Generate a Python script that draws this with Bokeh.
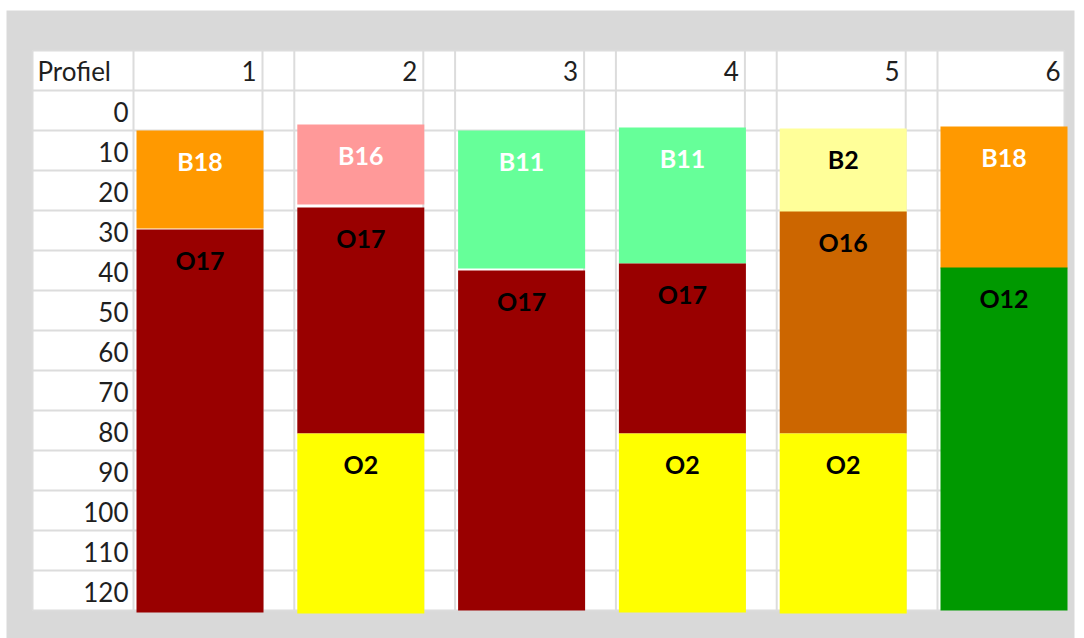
from bokeh.plotting import figure
from bokeh.models import Range1d, ColumnDataSource
from bokeh.core.properties import value
from bokeh.embed import file_html
from bokeh.resources import INLINE

# ---- data ----
profiles = [1, 2, 3, 4, 5, 6]
depth_labels = [0, 10, 20, 30, 40, 50, 60, 70, 80, 90, 100, 110, 120]
layer_profile = [1, 1, 2, 2, 2, 3, 3, 4, 4, 4, 5, 5, 5, 6, 6]
layer_code = ["B18", "O17", "B16", "O17", "O2", "B11", "O17", "B11", "O17", "O2",
              "B2", "O16", "O2", "B18", "O12"]
layer_top = [5, 29.75, 3.5, 24.25, 80.75, 5, 40, 4.25, 38.25, 80.75,
             4.5, 25.25, 80.75, 4, 39.25]
layer_bottom = [29.5, 125.5, 23.5, 80.75, 125.75, 39.5, 125, 38.25, 80.75, 125.5,
                25.5, 80.75, 125.75, 39.5, 125]

# ---- styles ----
code_color = {"B18": "#FF9900", "B16": "#FF9999", "B11": "#66FF99", "B2": "#FFFF99",
              "O17": "#990000", "O16": "#CC6600", "O2": "#FFFF00", "O12": "#009900"}
code_text = {"B18": "white", "B16": "white", "B11": "white", "B2": "black",
             "O17": "black", "O16": "black", "O2": "black", "O12": "black"}

FONT = "Lato"
GRID = "#DCDCDC"
TEXT = "#1F1F1F"

# layout (page pixel coordinates for x, depth units for y; 4 px per unit)
LABEL_L, LABEL_R = 32, 133
COL_STEP, WIDE = 160.8, 129
TABLE_R = 1064
ROW_TOP = -15  # top of header row (depth units)
ROW_H = 10

p = figure(width=1084, height=638, x_range=Range1d(0, 1084), y_range=Range1d(132, -27.5),
           min_border=0, toolbar_location=None, output_backend="svg",
           x_axis_location=None, y_axis_location=None)
p.grid.visible = False
p.outline_line_color = None
p.background_fill_color = "white"
p.border_fill_color = "white"

# grey sheet background and white table
p.quad(left=[6], right=[1074], top=[-25], bottom=[133], fill_color="#D9D9D9", line_color=None)
p.quad(left=[LABEL_L], right=[TABLE_R], top=[ROW_TOP], bottom=[125], fill_color="white", line_color=None)

# grid lines
col_starts = [LABEL_R + (pr - 1) * COL_STEP for pr in profiles]
vx = [LABEL_L, LABEL_R]
for i, s in enumerate(col_starts):
    if i > 0:
        vx.append(s)
    if i < len(col_starts) - 1:
        vx.append(s + WIDE)
vx.append(TABLE_R)
p.segment(x0=vx, x1=vx, y0=[ROW_TOP] * len(vx), y1=[125] * len(vx), line_color=GRID, line_width=2)
hy = [ROW_TOP + k * ROW_H for k in range(len(depth_labels) + 2)]
p.segment(x0=[LABEL_L] * len(hy), x1=[TABLE_R] * len(hy), y0=hy, y1=hy, line_color=GRID, line_width=2)

# header texts
p.text(x=[37], y=[-10], text=["Profiel"], text_font=value(FONT), text_font_size="26px",
       text_color=TEXT, text_baseline="middle", text_align="left")
p.text(x=[s + WIDE - 6 for s in col_starts], y=[-10] * len(profiles), text=[str(v) for v in profiles],
       text_font=value(FONT), text_font_size="26px", text_color=TEXT,
       text_baseline="middle", text_align="right")
p.text(x=[LABEL_R - 5] * len(depth_labels), y=[d + 0.3 for d in depth_labels],
       text=[str(d) for d in depth_labels], text_font=value(FONT), text_font_size="26px",
       text_color=TEXT, text_baseline="middle", text_align="right")

# layers
lefts = [col_starts[pr - 1] + 3 for pr in layer_profile]
src = ColumnDataSource(dict(
    left=lefts, right=[l + 127 for l in lefts], top=layer_top, bottom=layer_bottom,
    color=[code_color[c] for c in layer_code], tcolor=[code_text[c] for c in layer_code],
    code=layer_code, cx=[l + 63.5 for l in lefts], ty=[t + 7.5 for t in layer_top]))
p.quad(left="left", right="right", top="top", bottom="bottom", fill_color="color",
       line_color=None, source=src)
p.text(x="cx", y="ty", text="code", text_color="tcolor", text_font=value(FONT),
       text_font_size="25px", text_font_style="bold", text_align="center",
       text_baseline="middle", source=src)

open("out.html", "w").write(file_html(p, INLINE))
